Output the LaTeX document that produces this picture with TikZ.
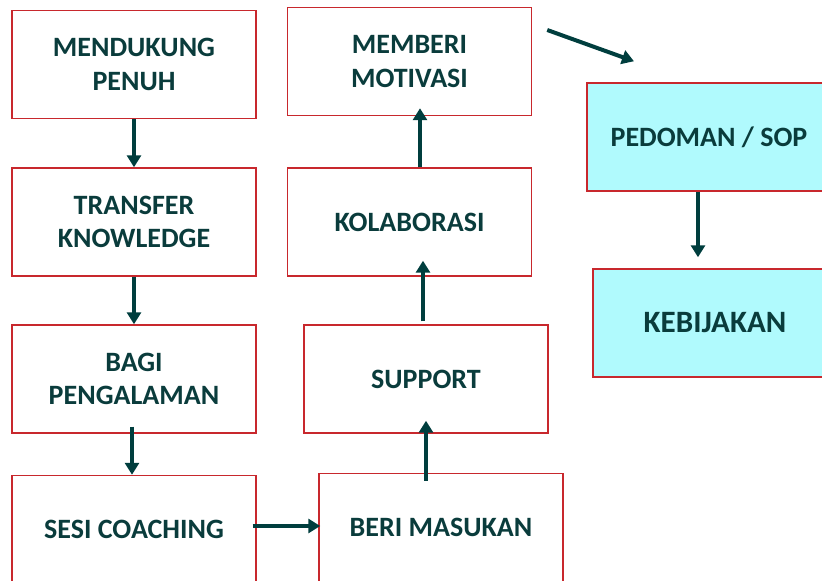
\documentclass[tikz,border=0pt]{standalone}
\usepackage{fontspec}
\setmainfont{Carlito}
\usetikzlibrary{arrows.meta,calc}

\definecolor{boxred}{RGB}{200,40,45}
\definecolor{txtteal}{RGB}{10,60,60}
\definecolor{arrteal}{RGB}{0,62,62}
\definecolor{boxcyan}{RGB}{176,250,253}

\tikzset{
	stepbox/.style={draw=boxred, line width=1.1pt, fill=white, inner sep=0pt,
		minimum width=183pt, minimum height=81pt, align=center,
		text=txtteal, font=\fontsize{21}{25}\selectfont\bfseries},
	goalbox/.style={stepbox, fill=boxcyan},
	flow/.style={draw=arrteal, line width=3pt, -{Triangle[width=10.5pt,length=9pt]}}}
\tikzset{every picture/.style={line width=0.75pt}}

\begin{document}
\begin{tikzpicture}[x=0.75pt,y=0.75pt,yscale=-1,xscale=1]
	\useasboundingbox (0,0) rectangle (822,581);

	%Shape: Rectangle [id:mendukung]
	\node [stepbox] (mendukung) at (134,64.5) {MENDUKUNG\\PENUH};
	%Shape: Rectangle [id:transfer]
	\node [stepbox] (transfer) at (134,222) {TRANSFER\\KNOWLEDGE};
	%Shape: Rectangle [id:bagi]
	\node [stepbox] (bagi) at (134,379) {BAGI\\PENGALAMAN};
	%Shape: Rectangle [id:sesi]
	\node [stepbox] (sesi) at (134,529.5) {SESI COACHING};
	%Shape: Rectangle [id:beri]
	\node [stepbox] (beri) at (441,527.5) {BERI MASUKAN};
	%Shape: Rectangle [id:support]
	\node [stepbox] (support) at (426,379) {SUPPORT};
	%Shape: Rectangle [id:kolaborasi]
	\node [stepbox] (kolaborasi) at (409.5,222) {KOLABORASI};
	%Shape: Rectangle [id:memberi]
	\node [stepbox] (memberi) at (409.5,61.5) {MEMBERI\\MOTIVASI};
	%Shape: Rectangle [id:pedoman]
	\node [goalbox] (pedoman) at (709,137) {PEDOMAN / SOP};
	%Shape: Rectangle [id:kebijakan]
	\node [goalbox, font=\fontsize{23.3}{28}\selectfont\bfseries] (kebijakan) at (715,323) {KEBIJAKAN};

	%Straight Lines [id:a1]
	\draw [flow] (mendukung.south) -- (transfer.north);
	%Straight Lines [id:a2]
	\draw [flow] (transfer.south) -- (bagi.north);
	%Straight Lines [id:a3]
	\draw [flow] ($(bagi.south)+(-2,-7)$) -- ($(sesi.north)+(-2,0)$);
	%Straight Lines [id:a4]
	\draw [flow] ($(sesi.east)+(-4,-3.5)$) -- ($(beri.west)+(2,-1.5)$);
	%Straight Lines [id:a5]
	\draw [flow] ($(beri.north)+(-15,8)$) -- ($(support.south)+(0,-13)$);
	%Straight Lines [id:a6]
	\draw [flow] ($(support.north)+(-3,-3)$) -- ($(kolaborasi.south)+(13.5,-16)$);
	%Straight Lines [id:a7]
	\draw [flow] ($(kolaborasi.north)+(10.5,0)$) -- ($(memberi.south)+(10.5,-8)$);
	%Straight Lines [id:a8]
	\draw [flow] ($(memberi.east)+(15,-31.5)$) -- ($(pedoman.north)+(-75,-21)$);
	%Straight Lines [id:a9]
	\draw [flow] ($(pedoman.south)+(-11,0)$) -- ($(kebijakan.north)+(-17,-11)$);

\end{tikzpicture}
\end{document}
